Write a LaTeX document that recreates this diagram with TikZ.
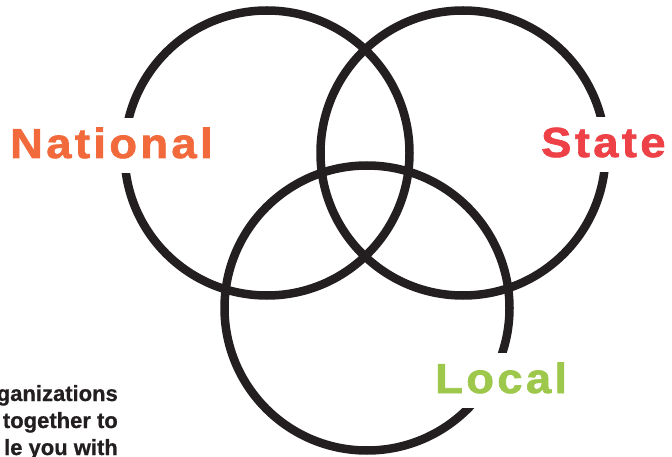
\documentclass[tikz,border=0pt]{standalone}
\usepackage{fontspec}
\usepackage{xcolor}
\newfontfamily\labelfont[LetterSpace=8, FakeStretch=1.08, FakeBold=1.6]{Liberation Sans}
\newfontfamily\bodyfont[FakeBold=0.8]{Liberation Sans}
\definecolor{ringgray}{HTML}{231F20}
\definecolor{natorange}{HTML}{F26A3C}
\definecolor{statered}{HTML}{EE4147}
\definecolor{localgreen}{HTML}{9DC84B}
\usetikzlibrary{positioning}

\begin{document}
\begin{tikzpicture}[x=1pt, y=-1pt,
  ring/.style={draw=ringgray, line width=8.5pt, circle, minimum size=285pt, inner sep=0pt},
  tag/.style={fill=white, font=\labelfont\bfseries\fontsize{42}{42}\selectfont, text height=30pt, text depth=5pt, inner ysep=10pt, inner xsep=2pt, anchor=base west}]
\useasboundingbox (0,0) rectangle (672,457);

% the three circles
\node[ring] (natring) at (267,153) {};
\node[ring] (statering) at (463,153) {};
\node[ring] (localring) at (367,308) {};

% labels on top of the lines
\node[tag, text=natorange] (national) at (8,158) {National};
\node[tag, text=statered] (state) at (539,157) {State};
\node[tag, text=localgreen] (local) at (433,393) {Local};

% cut-off text at bottom left
\node[anchor=base east, align=right, inner sep=0pt, text=ringgray,
  font=\bodyfont\bfseries\fontsize{22}{27}\selectfont] (blurb) at (118,455)
  {ganizations\\together to\\le you with};
\end{tikzpicture}
\end{document}
